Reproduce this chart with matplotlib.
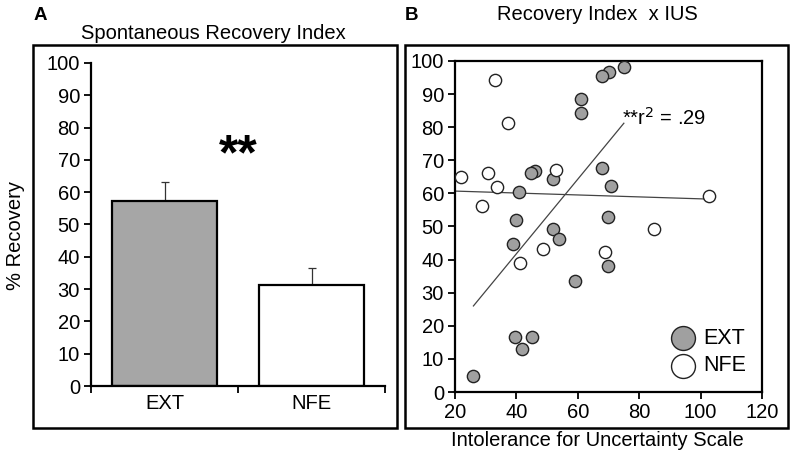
import matplotlib
matplotlib.use("Agg")
import matplotlib.pyplot as plt
from matplotlib.patches import Rectangle
import numpy as np

plt.rcParams['font.family'] = ['Liberation Sans', 'DejaVu Sans']

# Panel A data
groups = ["EXT", "NFE"]
recovery_mean = [57.3, 31.3]
recovery_err = [5.9, 5.2]
bar_colors = ["#a6a6a6", "#ffffff"]

# Panel B data
ext_ius = [75.0, 70.2, 68.0, 60.9, 60.9, 68.0, 46.1, 44.8, 52.0, 70.9, 40.9,
           39.8, 69.9, 52.0, 54.0, 39.0, 69.9, 59.0, 39.7, 45.1, 41.9, 26.0]
ext_rec = [98.1, 96.8, 95.5, 88.5, 84.2, 67.6, 66.9, 66.2, 64.3, 62.3, 60.4,
           52.0, 52.8, 49.3, 46.2, 44.6, 38.1, 33.4, 16.7, 16.7, 13.1, 4.9]
nfe_ius = [33.0, 37.3, 22.0, 30.6, 33.8, 52.9, 28.8, 102.8, 84.8, 48.8, 41.2, 68.8]
nfe_rec = [94.3, 81.3, 65.0, 66.2, 62.0, 67.2, 56.2, 59.1, 49.1, 43.1, 39.1, 42.2]
ext_fit_x = [26.0, 75.0]
ext_fit_y = [26.0, 81.2]
nfe_fit_x = [20.0, 102.0]
nfe_fit_y = [60.7, 58.3]

W, H = 795, 461
fig = plt.figure(figsize=(W / 100, H / 100), dpi=100)

def fx(px):
    return px / W

def fy(py):
    return 1 - py / H

FS = 14.5

# Frames
for (x0, y0, x1, y1) in [(32.5, 45, 396.5, 428), (405, 45, 788, 428)]:
    fig.patches.append(Rectangle((fx(x0), fy(y1)), fx(x1) - fx(x0), fy(y0) - fy(y1),
                                 transform=fig.transFigure, fill=False,
                                 edgecolor='black', linewidth=1.8))

# Panel A
axA = fig.add_axes([fx(91), fy(386), fx(385) - fx(91), fy(63) - fy(386)])
xpos = np.arange(len(groups))
axA.bar(xpos, recovery_mean, width=0.71, color=bar_colors, edgecolor='black',
        linewidth=1.6, zorder=2)
axA.errorbar(xpos, recovery_mean, yerr=[[0, 0], recovery_err], fmt='none',
             ecolor='#333333', elinewidth=0.9, capsize=3, capthick=0.9, zorder=1)
axA.set_xlim(-0.5, 1.5)
axA.set_ylim(0, 100)
axA.set_yticks(range(0, 101, 10))
axA.set_xticks([-0.5, 0.5, 1.5])
axA.set_xticklabels([])
axA.set_xticks(xpos, minor=True)
axA.set_xticklabels(groups, minor=True)
axA.tick_params(axis='x', which='minor', length=0, pad=6, labelsize=FS)
axA.tick_params(axis='x', which='major', length=5, width=1.3, direction='out')
axA.tick_params(axis='y', length=5, width=1.3, labelsize=FS, pad=3)
for s in ['top', 'right']:
    axA.spines[s].set_visible(False)
for s in ['left', 'bottom']:
    axA.spines[s].set_linewidth(1.6)
fig.text(fx(16), fy(236), "% Recovery", fontsize=FS, rotation=90,
         ha='center', va='center')
axA.text(0.5, 71, "**", fontsize=36, fontweight='bold', ha='center', va='center')
fig.text(fx(213), fy(33), "Spontaneous Recovery Index", fontsize=FS,
         ha='center', va='center')
fig.text(fx(40), fy(15), "A", fontsize=13.5, fontweight='bold', ha='center', va='center')

# Panel B
axB = fig.add_axes([fx(455), fy(392), fx(762) - fx(455), fy(61) - fy(392)])
axB.plot(ext_fit_x, ext_fit_y, color='#444444', linewidth=0.9, zorder=1)
axB.plot(nfe_fit_x, nfe_fit_y, color='#444444', linewidth=0.9, zorder=1)
axB.scatter(ext_ius, ext_rec, s=78, facecolor='#a0a0a0', edgecolor='#222222',
            linewidth=1.0, zorder=3, label='EXT')
axB.scatter(nfe_ius, nfe_rec, s=78, facecolor='white', edgecolor='#222222',
            linewidth=1.0, zorder=3, label='NFE')
axB.set_xlim(20, 120)
axB.set_ylim(0, 100)
axB.set_xticks(range(20, 121, 20))
axB.set_yticks(range(0, 101, 10))
axB.tick_params(length=5, width=1.3, labelsize=FS, pad=3)
for s in axB.spines.values():
    s.set_linewidth(1.6)
fig.text(fx(597), fy(440), "Intolerance for Uncertainty Scale", fontsize=FS,
         ha='center', va='center')
fig.text(fx(597), fy(15), "Recovery Index  x IUS", fontsize=FS,
         ha='center', va='center')
axB.text(74.4, 80.7, r"**r$^2$ = .29", fontsize=FS, ha='left', va='baseline')
leg = axB.legend(loc='center left', frameon=False, fontsize=15.5, markerscale=1.95,
                 handlelength=1.0, handletextpad=0.45, labelspacing=0.3,
                 borderpad=0, borderaxespad=0,
                 bbox_to_anchor=(fx(672.5), fy(352)), bbox_transform=fig.transFigure)
fig.text(fx(412), fy(15), "B", fontsize=13.5, fontweight='bold', ha='center', va='center')

fig.savefig("out.png", dpi=100)
